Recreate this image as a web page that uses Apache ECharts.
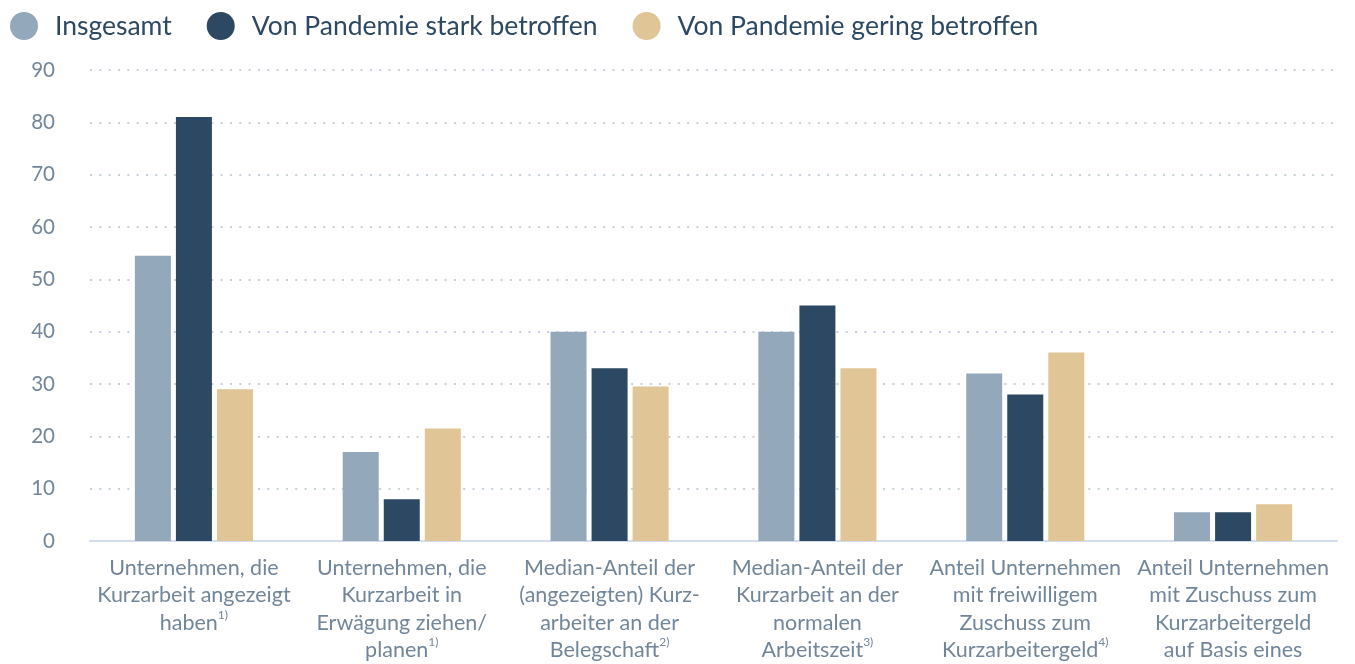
<!DOCTYPE html>
<html><head><meta charset="utf-8">
<script src="https://cdn.jsdelivr.net/npm/echarts@6/dist/echarts.min.js"></script>
<style>html,body{margin:0;padding:0;background:#fff}#c{width:1355px;height:664px}</style>
</head><body><div id="c"></div>
<script>
const categories = [
  "Unternehmen, die\nKurzarbeit angezeigt\nhaben{sup|1)}",
  "Unternehmen, die\nKurzarbeit in\nErwägung ziehen/\nplanen{sup|1)}",
  "Median-Anteil der\n(angezeigten) Kurz-\narbeiter an der\nBelegschaft{sup|2)}",
  "Median-Anteil der\nKurzarbeit an der\nnormalen\nArbeitszeit{sup|3)}",
  "Anteil Unternehmen\nmit freiwilligem\nZuschuss zum\nKurzarbeitergeld{sup|4)}",
  "Anteil Unternehmen\nmit Zuschuss zum\nKurzarbeitergeld\nauf Basis eines"
];
const seriesNames = ["Insgesamt", "Von Pandemie stark betroffen", "Von Pandemie gering betroffen"];
const insgesamt = [54.5, 17, 40, 40, 32, 5.5];
const stark = [81, 8, 33, 45, 28, 5.5];
const gering = [29, 21.5, 29.5, 33, 36, 7];
const yTicks = { min: 0, max: 90, interval: 10 };

const colors = ["#93a8bb", "#2d4862", "#e0c596"];
const FONT = "Lato";
const chart = echarts.init(document.getElementById('c'));
const mk = (name, data, i) => ({
  name, type: 'bar', data, barWidth: 36, barGap: '14%',
  itemStyle: { color: colors[i] }
});
chart.setOption({
  animation: false,
  textStyle: { fontFamily: FONT },
  legend: {
    left: 5, top: 7, icon: 'circle', itemWidth: 28, itemHeight: 28, itemGap: 35,
    textStyle: { fontSize: 26.5, color: '#2d4862', fontFamily: FONT, padding: [0, 0, 0, 12] },
    data: seriesNames
  },
  grid: { left: 90, right: 18, top: 70, bottom: 121 },
  xAxis: {
    type: 'category', data: categories,
    axisTick: { show: false },
    axisLine: { lineStyle: { color: '#d3ddee', width: 2 } },
    axisLabel: {
      interval: 0, margin: 13, color: '#728699', fontSize: 21.5, lineHeight: 27.5, fontFamily: FONT,
      rich: { sup: { fontSize: 12, verticalAlign: 'top', lineHeight: 27.5, padding: [0, 0, 9, 0], color: '#728699' } }
    }
  },
  yAxis: {
    type: 'value', min: yTicks.min, max: yTicks.max, interval: yTicks.interval,
    axisLine: { show: false }, axisTick: { show: false },
    axisLabel: { margin: 35, color: '#728699', fontSize: 20.5, fontFamily: FONT },
    splitLine: { lineStyle: { color: '#c5d1de', width: 2, type: [2, 7.33] } }
  },
  series: [mk(seriesNames[0], insgesamt, 0), mk(seriesNames[1], stark, 1), mk(seriesNames[2], gering, 2)]
});
</script></body></html>
